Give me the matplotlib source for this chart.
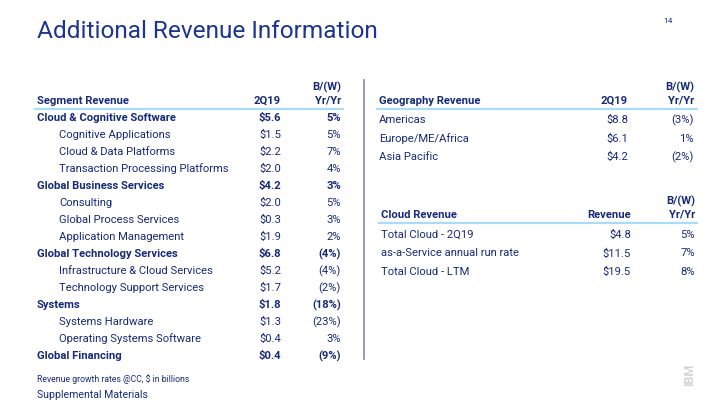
import matplotlib
matplotlib.use('Agg')
import matplotlib.pyplot as plt

plt.rcParams['font.family'] = ['Roboto', 'DejaVu Sans']

NAVY = '#172a7a'
TITLE = '#1b3590'
RULE = '#a9dcf7'

# segment table
seg_names = ['Cloud & Cognitive Software', 'Cognitive Applications', 'Cloud & Data Platforms',
             'Transaction Processing Platforms', 'Global Business Services', 'Consulting',
             'Global Process Services', 'Application Management', 'Global Technology Services',
             'Infrastructure & Cloud Services', 'Technology Support Services', 'Systems',
             'Systems Hardware', 'Operating Systems Software', 'Global Financing']
seg_bold = [1, 0, 0, 0, 1, 0, 0, 0, 1, 0, 0, 1, 0, 0, 1]
seg_rev = ['$5.6', '$1.5', '$2.2', '$2.0', '$4.2', '$2.0', '$0.3', '$1.9', '$6.8',
           '$5.2', '$1.7', '$1.8', '$1.3', '$0.4', '$0.4']
seg_yy = ['5%', '5%', '7%', '4%', '3%', '5%', '3%', '2%', '(4%)',
          '(4%)', '(2%)', '(18%)', '(23%)', '3%', '(9%)']

# geography table
geo_names = ['Americas', 'Europe/ME/Africa', 'Asia Pacific']
geo_rev = ['$8.8', '$6.1', '$4.2']
geo_yy = ['(3%)', '1%', '(2%)']

# cloud table
cloud_names = ['Total Cloud - 2Q19', 'as-a-Service annual run rate', 'Total Cloud - LTM']
cloud_rev = ['$4.8', '$11.5', '$19.5']
cloud_yy = ['5%', '7%', '8%']

fig = plt.figure(figsize=(7.2, 4.05), dpi=100)
ax = fig.add_axes([0, 0, 1, 1])
ax.set_xlim(0, 720)
ax.set_ylim(405, 0)
ax.axis('off')

FS = 8.1

ax.text(37, 32, 'Additional Revenue Information', fontsize=17.6, color=TITLE, va='center')
ax.text(673, 21, '14', fontsize=6, color=TITLE, ha='right', va='center')


def header(x0, x1, c1, c2, y, title, col1):
    ax.text(x0, y, title, fontsize=FS, fontweight='bold', color=NAVY, va='center')
    ax.text(c1, y, col1, fontsize=FS, fontweight='bold', color=NAVY, va='center', ha='right')
    ax.text(c2, y, 'Yr/Yr', fontsize=FS, fontweight='bold', color=NAVY, va='center', ha='right')
    ax.text(c2, y - 14, 'B/(W)', fontsize=FS, fontweight='bold', color=NAVY, va='center', ha='right')
    ax.plot([x0 - 3, x1], [y + 8, y + 8], color=RULE, lw=1.6, solid_capstyle='butt')


# left table
header(37, 344, 281, 341, 101, 'Segment Revenue', '2Q19')
for i, name in enumerate(seg_names):
    y = 118 + i * 17
    w = 'bold' if seg_bold[i] else 'normal'
    x = 37 if seg_bold[i] else 59
    ax.text(x, y, name, fontsize=FS, fontweight=w, color=NAVY, va='center')
    ax.text(281, y, seg_rev[i], fontsize=FS, fontweight=w, color=NAVY, va='center', ha='right')
    ax.text(341, y, seg_yy[i], fontsize=FS, fontweight=w, color=NAVY, va='center', ha='right')

ax.plot([364, 364], [80, 359], color='#8a90c4', lw=1.3)

# geography table
header(379, 698, 628, 694, 101, 'Geography Revenue', '2Q19')
for i, name in enumerate(geo_names):
    y = 120 + i * 18.5
    ax.text(379, y, name, fontsize=FS, color=NAVY, va='center')
    ax.text(628, y, geo_rev[i], fontsize=FS, color=NAVY, va='center', ha='right')
    ax.text(694, y, geo_yy[i], fontsize=FS, color=NAVY, va='center', ha='right')

# cloud table
header(381, 698, 631, 695, 215, 'Cloud Revenue', 'Revenue')
for i, name in enumerate(cloud_names):
    y = 235 + i * 18.5
    ax.text(381, y, name, fontsize=FS, color=NAVY, va='center')
    ax.text(631, y, cloud_rev[i], fontsize=FS, color=NAVY, va='center', ha='right')
    ax.text(695, y, cloud_yy[i], fontsize=FS, color=NAVY, va='center', ha='right')

ax.text(37, 379, 'Revenue growth rates @CC, $ in billions', fontsize=6.2, color=NAVY, va='center')
ax.text(37, 395, 'Supplemental Materials', fontsize=7.6, color=NAVY, va='center')
ax.text(690, 375, 'IBM', fontsize=9, fontweight='bold', color='#d4d4d4', rotation=90,
        ha='center', va='center')

fig.savefig('out.png', dpi=100)
